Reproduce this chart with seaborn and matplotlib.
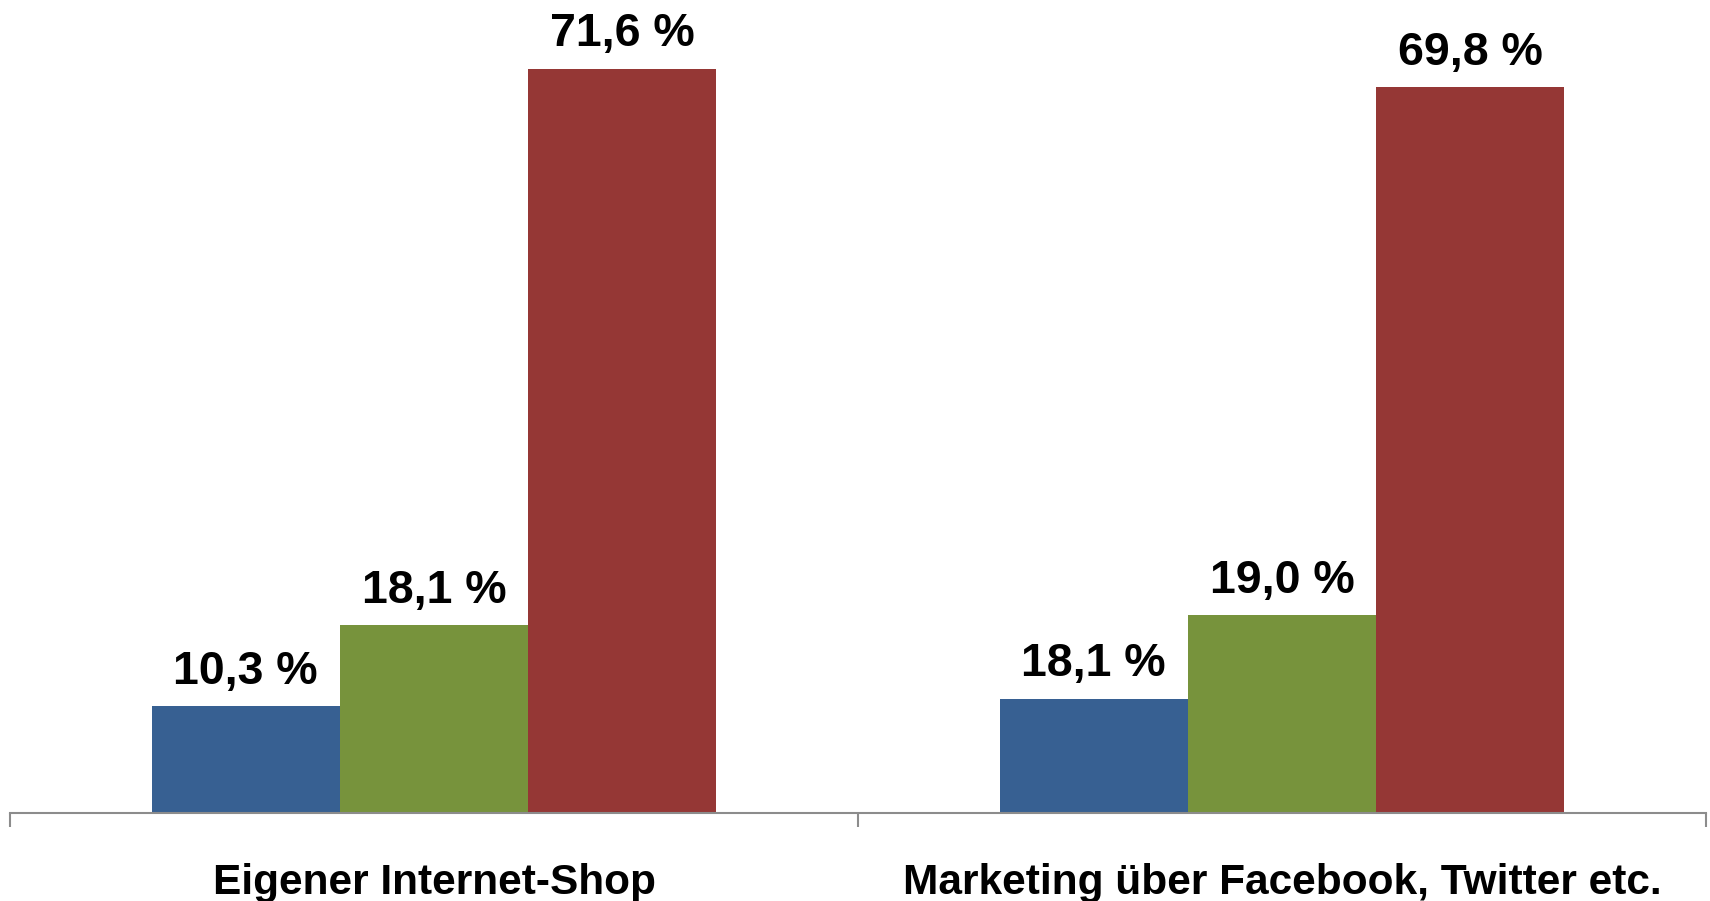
import pandas as pd
import seaborn as sns
import matplotlib.pyplot as plt

# --- data ---
categories = ["Eigener Internet-Shop", "Marketing über Facebook, Twitter etc."]
series = ["Serie 1", "Serie 2", "Serie 3"]
# bar heights as drawn in the reference
values_s1 = [10.3, 11.0]
values_s2 = [18.1, 19.0]
values_s3 = [71.6, 69.8]
# the printed labels (the second blue bar is labelled 18,1 % in the original)
labels_s1 = ["10,3 %", "18,1 %"]
labels_s2 = ["18,1 %", "19,0 %"]
labels_s3 = ["71,6 %", "69,8 %"]
colors = ["#376092", "#77933C", "#953735"]

rows = []
for name, vals in zip(series, [values_s1, values_s2, values_s3]):
    for cat, v in zip(categories, vals):
        rows.append({"Kategorie": cat, "Serie": name, "Wert": v})
df = pd.DataFrame(rows)

sns.set_style("white")
plt.rcParams["font.family"] = ["Liberation Sans", "DejaVu Sans"]
plt.rcParams["text.color"] = "black"

fig = plt.figure(figsize=(17.1, 9.01), dpi=100)
ax = fig.add_axes([10 / 1710, 1 - 813 / 901, 1696 / 1710, 813 / 901])

sns.barplot(data=df, x="Kategorie", y="Wert", hue="Serie", palette=colors,
            width=0.666, saturation=1, legend=False, linewidth=0, ax=ax)

ax.set_ylim(0, 78.2)
ax.set_xlim(-0.5, 1.5)

# value labels above every bar
for container, labels in zip(ax.containers, [labels_s1, labels_s2, labels_s3]):
    for bar, txt in zip(container, labels):
        ax.annotate(txt, (bar.get_x() + bar.get_width() / 2, bar.get_height()),
                    xytext=(0, 16), textcoords="offset points",
                    ha="center", va="baseline", fontsize=33.5,
                    fontweight="bold", color="black")

# axis styling
for s in ["left", "top", "right"]:
    ax.spines[s].set_visible(False)
ax.spines["bottom"].set_color("#8c8c8c")
ax.spines["bottom"].set_linewidth(1.5)
ax.set_yticks([])
ax.set_xlabel("")
ax.set_ylabel("")
ax.set_xticks([0, 1])
ax.set_xticklabels(categories, fontsize=30.5, fontweight="bold", color="black")
ax.tick_params(axis="x", which="major", length=0, pad=36)
ax.set_xticks([-0.5, 0.5, 1.5], minor=True)
ax.tick_params(axis="x", which="minor", bottom=True, length=10, width=1.5,
               color="#8c8c8c", direction="out")

fig.savefig("out.png", dpi=100)
